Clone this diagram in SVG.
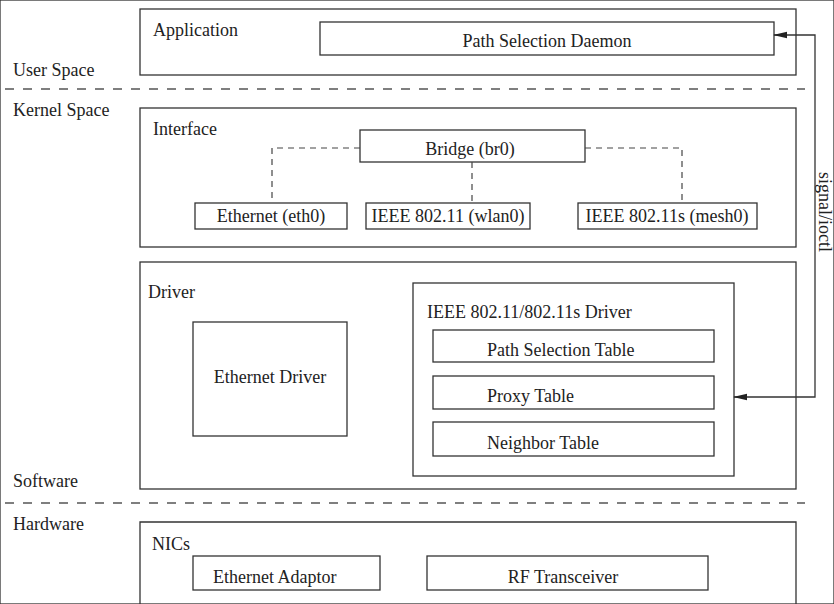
<svg xmlns="http://www.w3.org/2000/svg" width="834" height="604" viewBox="0 0 834 604">
<defs>
<style>
rect, .box { fill: none; stroke: #333; stroke-width: 1.3; }
text { font-family: "Liberation Serif", "Times New Roman", serif; font-size: 18px; fill: #222; }
.c { text-anchor: middle; }
.dash { fill: none; stroke: #555; stroke-width: 1.3; stroke-dasharray: 9 9; }
.link { fill: none; stroke: #444; stroke-width: 1.2; stroke-dasharray: 6 5; }
.arrow { fill: none; stroke: #333; stroke-width: 1.3; }
</style>
<marker id="ah" viewBox="0 0 14 8" refX="13" refY="4" markerWidth="14" markerHeight="8" markerUnits="userSpaceOnUse" orient="auto-start-reverse">
<path d="M0,0.8 L14,4 L0,7.2 z" fill="#222"/>
</marker>
</defs>
<rect width="834" height="604" fill="#fff" stroke="none"/>

<g id="layers">
<text x="13" y="76">User Space</text>
<line class="dash" x1="5" y1="89" x2="805" y2="89"/>
<text x="13" y="116">Kernel Space</text>
<text x="13" y="487">Software</text>
<line class="dash" x1="5" y1="503" x2="805" y2="503"/>
<text x="13" y="530">Hardware</text>
</g>

<g id="application">
<rect x="140" y="9" width="656" height="66"/>
<text x="153" y="36">Application</text>
</g>
<g id="path-selection-daemon">
<rect x="320" y="22" width="454" height="33"/>
<text class="c" x="547" y="47">Path Selection Daemon</text>
</g>

<g id="interface">
<rect x="140" y="108" width="656" height="139"/>
<text x="153" y="135">Interface</text>
</g>
<g id="bridge">
<rect x="360" y="130" width="225" height="32"/>
<text class="c" x="470" y="155">Bridge (br0)</text>
</g>
<g id="eth0">
<rect x="195" y="203" width="152" height="26"/>
<text class="c" x="271" y="222">Ethernet (eth0)</text>
</g>
<g id="wlan0">
<rect x="366" y="203" width="164" height="26"/>
<text class="c" x="448" y="222">IEEE 802.11 (wlan0)</text>
</g>
<g id="mesh0">
<rect x="578" y="203" width="179" height="26"/>
<text class="c" x="667" y="222">IEEE 802.11s (mesh0)</text>
</g>

<g id="driver">
<rect x="140" y="262" width="656" height="227"/>
<text x="148" y="298">Driver</text>
</g>
<g id="ethernet-driver">
<rect x="193" y="322" width="154" height="114"/>
<text class="c" x="270" y="383">Ethernet Driver</text>
</g>
<g id="wifi-driver">
<rect x="413" y="283" width="321" height="193"/>
<text x="427" y="318">IEEE 802.11/802.11s Driver</text>
</g>
<g id="path-selection-table">
<rect x="433" y="330" width="281" height="32"/>
<text x="487" y="356">Path Selection Table</text>
</g>
<g id="proxy-table">
<rect x="433" y="376" width="281" height="33"/>
<text x="487" y="402">Proxy Table</text>
</g>
<g id="neighbor-table">
<rect x="433" y="422" width="281" height="34"/>
<text x="487" y="449">Neighbor Table</text>
</g>

<g id="nics">
<path class="box" d="M140,605 V522 H796 V605"/>
<text x="152" y="550">NICs</text>
</g>
<g id="ethernet-adaptor">
<rect x="193" y="556" width="187" height="34"/>
<text x="213" y="583">Ethernet Adaptor</text>
</g>
<g id="rf-transceiver">
<rect x="427" y="556" width="281" height="34"/>
<text class="c" x="563" y="583">RF Transceiver</text>
</g>

<g id="connectors">
<path class="link" d="M360,148 H272 V203"/>
<path class="link" d="M585,148 H682 V203"/>
<path class="link" d="M472,162 V203"/>
<path class="arrow" d="M734,397 H815 V35 H774" marker-start="url(#ah)" marker-end="url(#ah)"/>
<text x="819" y="172" transform="rotate(90 819 172)">signal/ioctl</text>
</g>
</svg>
